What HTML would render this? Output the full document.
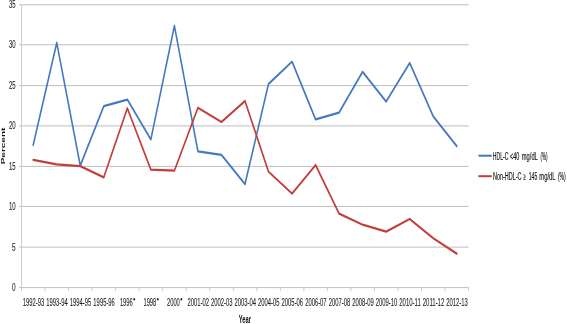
<!DOCTYPE html>
<html><head><meta charset="utf-8"><style>
html,body{margin:0;padding:0;background:#fff;}
body{width:567px;height:324px;overflow:hidden;}
svg{display:block;will-change:transform;filter:blur(0.3px);}
.g{stroke:#bebebe;stroke-width:1;fill:none;}
.v{stroke:#cdcdcd;stroke-width:1;fill:none;}
.t{font-family:"Liberation Sans",sans-serif;font-size:10.2px;fill:#1e1e1e;stroke:#1e1e1e;stroke-width:0.1;}
.ast{font-family:"Liberation Sans",sans-serif;font-size:6px;fill:#222;}
.pt{font-family:"Liberation Sans",sans-serif;font-size:9px;font-weight:bold;fill:#111;}
.yt{font-family:"Liberation Sans",sans-serif;font-size:10.3px;font-weight:bold;fill:#111;}
.lg{font-family:"Liberation Sans",sans-serif;font-size:10px;fill:#1a1a1a;stroke:#1a1a1a;stroke-width:0.2;}
.lgl{stroke-width:2.0;fill:none;}
.sb{stroke:#4479bf;stroke-width:2.3;fill:none;stroke-linejoin:round;stroke-linecap:round;}
.sr{stroke:#c23e3b;stroke-width:2.3;fill:none;stroke-linejoin:round;stroke-linecap:round;}
</style></head><body>
<svg width="567" height="324" viewBox="0 0 567 324">
<line x1="19" y1="287.60" x2="468.6" y2="287.60" class="g"/>
<line x1="19" y1="247.10" x2="468.6" y2="247.10" class="g"/>
<line x1="19" y1="206.40" x2="468.6" y2="206.40" class="g"/>
<line x1="19" y1="166.40" x2="468.6" y2="166.40" class="g"/>
<line x1="19" y1="125.90" x2="468.6" y2="125.90" class="g"/>
<line x1="19" y1="85.60" x2="468.6" y2="85.60" class="g"/>
<line x1="19" y1="44.80" x2="468.6" y2="44.80" class="g"/>
<line x1="19" y1="4.80" x2="468.6" y2="4.80" class="g"/>
<line x1="21.5" y1="4.8" x2="21.5" y2="287.6" class="v"/>
<line x1="21.50" y1="287.6" x2="21.50" y2="291.2" class="v"/>
<line x1="45.03" y1="287.6" x2="45.03" y2="291.2" class="v"/>
<line x1="68.56" y1="287.6" x2="68.56" y2="291.2" class="v"/>
<line x1="92.09" y1="287.6" x2="92.09" y2="291.2" class="v"/>
<line x1="115.62" y1="287.6" x2="115.62" y2="291.2" class="v"/>
<line x1="139.15" y1="287.6" x2="139.15" y2="291.2" class="v"/>
<line x1="162.68" y1="287.6" x2="162.68" y2="291.2" class="v"/>
<line x1="186.21" y1="287.6" x2="186.21" y2="291.2" class="v"/>
<line x1="209.74" y1="287.6" x2="209.74" y2="291.2" class="v"/>
<line x1="233.27" y1="287.6" x2="233.27" y2="291.2" class="v"/>
<line x1="256.80" y1="287.6" x2="256.80" y2="291.2" class="v"/>
<line x1="280.33" y1="287.6" x2="280.33" y2="291.2" class="v"/>
<line x1="303.86" y1="287.6" x2="303.86" y2="291.2" class="v"/>
<line x1="327.39" y1="287.6" x2="327.39" y2="291.2" class="v"/>
<line x1="350.92" y1="287.6" x2="350.92" y2="291.2" class="v"/>
<line x1="374.45" y1="287.6" x2="374.45" y2="291.2" class="v"/>
<line x1="397.98" y1="287.6" x2="397.98" y2="291.2" class="v"/>
<line x1="421.51" y1="287.6" x2="421.51" y2="291.2" class="v"/>
<line x1="445.04" y1="287.6" x2="445.04" y2="291.2" class="v"/>
<line x1="468.57" y1="287.6" x2="468.57" y2="291.2" class="v"/>
<text x="15.60" y="291.00" text-anchor="end" textLength="3.6" lengthAdjust="spacingAndGlyphs" class="t">0</text>
<text x="15.60" y="250.50" text-anchor="end" textLength="3.6" lengthAdjust="spacingAndGlyphs" class="t">5</text>
<text x="15.60" y="209.80" text-anchor="end" textLength="6.7" lengthAdjust="spacingAndGlyphs" class="t">10</text>
<text x="15.60" y="169.80" text-anchor="end" textLength="6.7" lengthAdjust="spacingAndGlyphs" class="t">15</text>
<text x="15.60" y="129.30" text-anchor="end" textLength="6.7" lengthAdjust="spacingAndGlyphs" class="t">20</text>
<text x="15.60" y="89.00" text-anchor="end" textLength="6.7" lengthAdjust="spacingAndGlyphs" class="t">25</text>
<text x="15.60" y="48.20" text-anchor="end" textLength="6.7" lengthAdjust="spacingAndGlyphs" class="t">30</text>
<text x="15.60" y="8.20" text-anchor="end" textLength="6.7" lengthAdjust="spacingAndGlyphs" class="t">35</text>
<text x="33.52" y="305.50" text-anchor="middle" textLength="21.5" lengthAdjust="spacingAndGlyphs" class="t">1992-93</text>
<text x="57.05" y="305.50" text-anchor="middle" textLength="21.5" lengthAdjust="spacingAndGlyphs" class="t">1993-94</text>
<text x="80.58" y="305.50" text-anchor="middle" textLength="21.5" lengthAdjust="spacingAndGlyphs" class="t">1994-95</text>
<text x="104.11" y="305.50" text-anchor="middle" textLength="21.5" lengthAdjust="spacingAndGlyphs" class="t">1995-96</text>
<text x="119.89" y="305.50" textLength="12.9" lengthAdjust="spacingAndGlyphs" class="t">1996</text>
<ellipse cx="134.28" cy="299.3" rx="0.85" ry="1.25" fill="#222"/>
<text x="143.42" y="305.50" textLength="12.9" lengthAdjust="spacingAndGlyphs" class="t">1998</text>
<ellipse cx="157.82" cy="299.3" rx="0.85" ry="1.25" fill="#222"/>
<text x="166.94" y="305.50" textLength="12.9" lengthAdjust="spacingAndGlyphs" class="t">2000</text>
<ellipse cx="181.34" cy="299.3" rx="0.85" ry="1.25" fill="#222"/>
<text x="198.23" y="305.50" text-anchor="middle" textLength="21.5" lengthAdjust="spacingAndGlyphs" class="t">2001-02</text>
<text x="221.75" y="305.50" text-anchor="middle" textLength="21.5" lengthAdjust="spacingAndGlyphs" class="t">2002-03</text>
<text x="245.29" y="305.50" text-anchor="middle" textLength="21.5" lengthAdjust="spacingAndGlyphs" class="t">2003-04</text>
<text x="268.81" y="305.50" text-anchor="middle" textLength="21.5" lengthAdjust="spacingAndGlyphs" class="t">2004-05</text>
<text x="292.35" y="305.50" text-anchor="middle" textLength="21.5" lengthAdjust="spacingAndGlyphs" class="t">2005-06</text>
<text x="315.88" y="305.50" text-anchor="middle" textLength="21.5" lengthAdjust="spacingAndGlyphs" class="t">2006-07</text>
<text x="339.41" y="305.50" text-anchor="middle" textLength="21.5" lengthAdjust="spacingAndGlyphs" class="t">2007-08</text>
<text x="362.94" y="305.50" text-anchor="middle" textLength="21.5" lengthAdjust="spacingAndGlyphs" class="t">2008-09</text>
<text x="386.47" y="305.50" text-anchor="middle" textLength="21.5" lengthAdjust="spacingAndGlyphs" class="t">2009-10</text>
<text x="410.00" y="305.50" text-anchor="middle" textLength="21.5" lengthAdjust="spacingAndGlyphs" class="t">2010-11</text>
<text x="433.53" y="305.50" text-anchor="middle" textLength="21.5" lengthAdjust="spacingAndGlyphs" class="t">2011-12</text>
<text x="457.06" y="305.50" text-anchor="middle" textLength="21.5" lengthAdjust="spacingAndGlyphs" class="t">2012-13</text>
<g transform="scale(0.68,1)">
<polyline points="48.85,144.99 83.45,42.78 118.05,165.59 152.65,106.20 187.26,99.58 221.86,139.49 256.46,25.81 291.07,151.37 325.67,154.93 360.27,184.18 394.87,83.98 429.48,61.60 464.08,119.29 498.68,112.51 533.29,71.86 567.89,101.52 602.49,62.98 637.10,116.30 671.70,146.20" class="sb"/>
<polyline points="48.85,159.94 83.45,164.30 118.05,166.16 152.65,177.31 187.26,108.22 221.86,169.63 256.46,170.68 291.07,107.74 325.67,121.96 360.27,100.95 394.87,171.65 429.48,193.63 464.08,165.03 498.68,213.59 533.29,224.74 567.89,231.61 602.49,219.00 637.10,238.31 671.70,253.66" class="sr"/>
</g>
<text transform="translate(5.3,164.3) scale(0.68,1) rotate(-90)" textLength="36.6" lengthAdjust="spacingAndGlyphs" class="pt">Percent</text>
<text x="238.80" y="323.20" textLength="12.3" lengthAdjust="spacingAndGlyphs" class="yt">Year</text>
<line x1="478.4" y1="155.7" x2="491.8" y2="155.7" class="lgl" stroke="#4479bf"/>
<line x1="478.4" y1="176.2" x2="491.8" y2="176.2" class="lgl" stroke="#c23e3b"/>
<text x="492.85" y="160.20" textLength="15.55" lengthAdjust="spacingAndGlyphs" class="lg">HDL-C</text>
<text x="510.05" y="160.20" textLength="9.25" lengthAdjust="spacingAndGlyphs" class="lg">&lt;40</text>
<text x="521.75" y="160.20" textLength="16.05" lengthAdjust="spacingAndGlyphs" class="lg">mg/dL</text>
<text x="540.60" y="160.20" textLength="7.0" lengthAdjust="spacingAndGlyphs" class="lg">(%)</text>
<text x="492.95" y="179.50" textLength="28.55" lengthAdjust="spacingAndGlyphs" class="lg">Non-HDL-C</text>
<text x="523.45" y="179.50" textLength="2.1" lengthAdjust="spacingAndGlyphs" class="lg">≥</text>
<text x="528.65" y="179.50" textLength="8.6" lengthAdjust="spacingAndGlyphs" class="lg">145</text>
<text x="539.25" y="179.50" textLength="16.4" lengthAdjust="spacingAndGlyphs" class="lg">mg/dL</text>
<text x="557.95" y="179.50" textLength="7.85" lengthAdjust="spacingAndGlyphs" class="lg">(%)</text>
</svg>
</body></html>
